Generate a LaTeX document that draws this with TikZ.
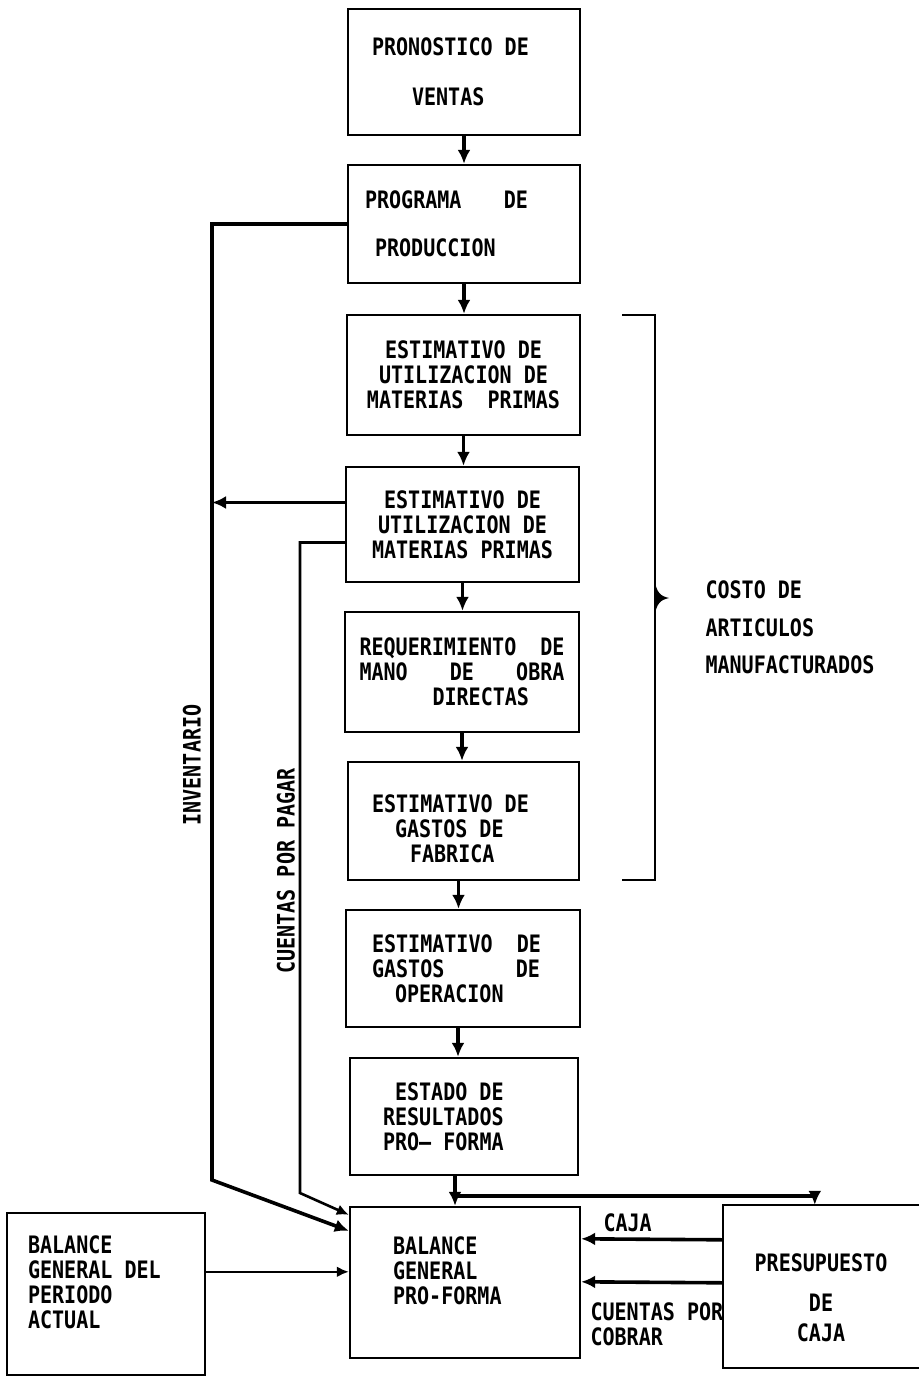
\documentclass[tikz,border=0pt]{standalone}
\usepackage{fontspec}
\setmainfont{DejaVu Sans Mono}[FakeStretch=0.835]
\usetikzlibrary{calc,arrows.meta,positioning}
\tikzset{
  blk/.style={draw, line width=2.4pt, inner sep=0pt, align=center},
  rim/.style={line width=2.4pt},
  flow/.style={-{Latex[length=14pt,width=13pt]}, line width=3.6pt},
  feed/.style={-{Latex[length=12pt,width=11pt]}, line width=2.6pt},
  note/.style={align=left, anchor=west}
}
\begin{document}
\begin{tikzpicture}[x=1pt,y=-1pt,font=\fontsize{24}{25}\selectfont\bfseries]
  \useasboundingbox (0,0) rectangle (919,1377);
  % column of estimates
  \node[blk, minimum width=232pt, minimum height=126pt] (ventas) at (464,72)
    {\makebox[184pt][l]{PRONOSTICO DE}\\[25pt]\makebox[184pt][l]{\hspace*{40pt}VENTAS}};
  \node[blk, minimum width=232pt, minimum height=118pt] (produccion) at (464,224)
    {\makebox[198pt][l]{\makebox[163pt][s]{PROGRAMA\hfill DE}}\\[23pt]\makebox[198pt][l]{\hspace*{10pt}PRODUCCION}};
  \node[blk, minimum width=233pt, minimum height=120pt] (materias1) at (463.5,375)
    {ESTIMATIVO DE\\UTILIZACION DE\\MATERIAS\ \ PRIMAS};
  \node[blk, minimum width=233pt, minimum height=115pt] (materias2) at (462.5,524.5)
    {ESTIMATIVO DE\\UTILIZACION DE\\MATERIAS PRIMAS};
  \node[blk, minimum width=234pt, minimum height=120pt] (mano) at (462,672)
    {\makebox[205pt][s]{REQUERIMIENTO\hfill DE}\\\makebox[205pt][s]{MANO\hfill DE\hfill OBRA}\\\makebox[205pt][l]{\hspace*{73pt}DIRECTAS}};
  \node[blk, minimum width=231pt, minimum height=118pt] (fabrica) at (463.5,821)
    {\mbox{}\\[8pt]\makebox[183pt][l]{ESTIMATIVO DE}\\\makebox[183pt][l]{\hspace*{23pt}GASTOS DE}\\\makebox[183pt][l]{\hspace*{38pt}FABRICA}};
  \node[blk, minimum width=234pt, minimum height=117pt] (operacion) at (463,968.5)
    {\makebox[182pt][l]{ESTIMATIVO\ \ DE}\\\makebox[182pt][l]{\makebox[168pt][s]{GASTOS\hfill DE}}\\\makebox[182pt][l]{\hspace*{23pt}OPERACION}};
  \node[blk, minimum width=228pt, minimum height=117pt] (resultados) at (464,1116.5)
    {\makebox[162pt][l]{\hspace*{12pt}ESTADO DE}\\\makebox[162pt][l]{RESULTADOS}\\\makebox[162pt][l]{PRO– FORMA}};
  % bottom row
  \node[blk, minimum width=230pt, minimum height=151pt] (balance) at (465,1282.5)
    {\makebox[144pt][l]{BALANCE}\\\makebox[144pt][l]{GENERAL}\\\makebox[144pt][l]{PRO-FORMA}\\[-1pt]\mbox{}};
  \node[blk, minimum width=198pt, minimum height=162pt] (actual) at (106,1294)
    {\makebox[156pt][l]{BALANCE}\\\makebox[156pt][l]{GENERAL DEL}\\\makebox[156pt][l]{PERIODO}\\\makebox[156pt][l]{ACTUAL}\\[-1pt]\mbox{}};
  \node[inner sep=0pt, align=center, minimum width=196pt, minimum height=163pt] (caja) at (821,1286.5)
    {\mbox{}\\[15pt]PRESUPUESTO\\[15pt]DE\\[5pt]CAJA};
  \draw[rim] (caja.north east) -- (caja.north west) -- (caja.south west) -- (caja.south east);
  % main flow
  \draw[flow] (ventas.south) -- (ventas.south |- produccion.north);
  \draw[flow] (produccion.south) -- (produccion.south |- materias1.north);
  \draw[flow] (materias1.south) -- (materias1.south |- materias2.north);
  \draw[flow] (materias2.south) -- (materias2.south |- mano.north);
  \draw[flow] (mano.south) -- (mano.south |- fabrica.north);
  \draw[flow] ($(fabrica.south)+(-5,0)$) coordinate (fo) -- (fo |- operacion.north);
  \draw[flow] ($(operacion.south)+(-5,0)$) coordinate (or) -- (or |- resultados.north);
  \draw[flow] ($(resultados.south)+(-9,0)$) coordinate (rb) -- (rb |- balance.north);
  \coordinate (split) at ($(resultados.south)+(-9,20)$);
  \draw[flow] (split) -| ($(caja.north west)+(92,0)$);
  % inventario
  \coordinate (invbend) at (212,1180);
  \draw[flow] (produccion.west) -| (invbend) -- ($(balance.north west)+(0,25)$);
  \draw[flow] ($(materias2.west)+(0,-22)$) coordinate (invin) -- (invin -| invbend);
  \node[rotate=90] (inventario) at (192,765) {INVENTARIO};
  % cuentas por pagar
  \coordinate (cxpbend) at (300,1193);
  \draw[feed] ($(materias2.west)+(0,18)$) -| (cxpbend) -- ($(balance.north west)+(0,9)$);
  \node[rotate=90] (cxp) at (286,871) {CUENTAS POR PAGAR};
  % inputs to the balance
  \draw[feed] ($(actual.north east)+(0,60)$) -- ($(balance.north west)+(0,66)$);
  \draw[flow] ($(caja.north west)+(0,35)$) -- ($(balance.north east)+(0,33)$);
  \node[note] (cajalbl) at (600,1223) {CAJA};
  \draw[flow] ($(caja.north west)+(0,78)$) -- ($(balance.north east)+(0,76)$);
  \node[note] (cxc) at (587,1324.5) {CUENTAS POR\\COBRAR};
  % bracket
  \draw[line width=2.4pt] (622,315) -- (655,315) -- (655,880) -- (622,880);
  \fill (654,576) .. controls (656,594) and (661,596) .. (669,598)
    .. controls (661,600) and (656,602) .. (654,620) -- cycle;
  \node[note] (costo) at (702,627.5) {COSTO DE\\[12.5pt]ARTICULOS\\[12.5pt]MANUFACTURADOS};
\end{tikzpicture}
\end{document}
